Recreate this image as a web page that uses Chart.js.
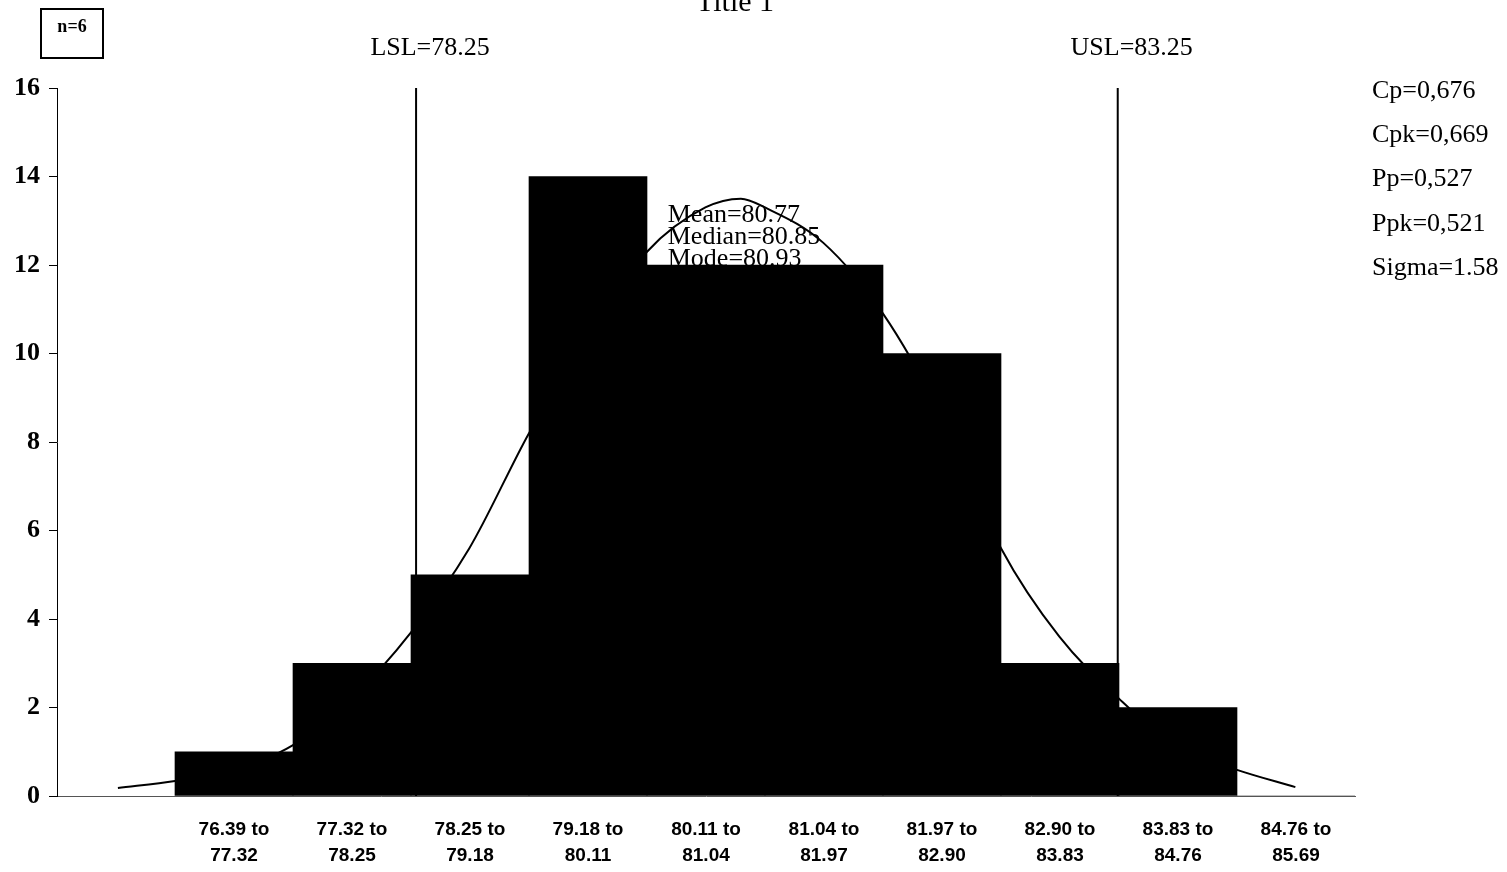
<!DOCTYPE html>
<html>
<head>
<meta charset="utf-8">
<script src="https://cdn.jsdelivr.net/npm/chart.js@4/dist/chart.umd.min.js"></script>
<style>
    html, body { margin: 0; padding: 0; background: #fff; }
    #wrap { width: 1507px; height: 872px; position: relative; }
</style>
</head>
<body>
<div id="wrap"><canvas id="histChart"></canvas></div>
<script>
// du lieu doc tu hinh
const binEdges = [76.39, 77.32, 78.25, 79.18, 80.11, 81.04, 81.97, 82.90, 83.83, 84.76, 85.69];
const binCounts = [1, 3, 5, 14, 12, 12, 10, 3, 2, 0];

// duong cong phan phoi (uoc luong tu hinh)
const curveX = [75.94, 76.39, 76.85, 77.32, 77.78, 78.25, 78.71, 79.18, 79.64, 80.11, 80.57, 80.85,
    81.04, 81.50, 81.97, 82.43, 82.90, 83.36, 83.83, 84.29, 84.76, 85.22];
const curveY = [0.18, 0.34, 0.6, 1.15, 2.2, 3.7, 5.6, 8.2, 10.4, 12.3, 13.3, 13.5,
    13.3, 12.5, 10.9, 8.6, 5.6, 3.6, 2.2, 1.1, 0.59, 0.2];

const specNames = ['LSL=78.25', 'USL=83.25'];
const specLinePos = [78.29, 83.82];
const centerStats = ['Mean=80.77', 'Median=80.85', 'Mode=80.93'];
const meanValue = 80.77;
const capStats = ['Cp=0,676', 'Cpk=0,669', 'Pp=0,527', 'Ppk=0,521', 'Sigma=1.58'];
const sampleLabel = 'n=6';
const chartTitle = 'Title 1';
const yMax = 16;
const yStep = 2;

const serif = "'Liberation Serif', 'Times New Roman', serif";
const binWidth = binEdges[1] - binEdges[0];
const binCenters = binCounts.map((c, i) => (binEdges[i] + binEdges[i + 1]) / 2);

// chu thich ve tay
const notesPlugin = {
    id: 'notes',
    beforeDatasetsDraw(chart) {
        const ctx = chart.ctx;
        const xs = chart.scales.x;
        const ys = chart.scales.y;
        ctx.save();
        ctx.fillStyle = '#000';
        ctx.font = '26px ' + serif;
        ctx.textAlign = 'left';
        ctx.textBaseline = 'middle';
        centerStats.forEach((t, i) => {
            ctx.fillText(t, xs.getPixelForValue(meanValue) - 63, ys.getPixelForValue(13.13) + i * 22);
        });
        ctx.restore();
    },
    afterDraw(chart) {
        const ctx = chart.ctx;
        const area = chart.chartArea;
        const xs = chart.scales.x;
        const ys = chart.scales.y;
        ctx.save();
        ctx.fillStyle = '#000';
        ctx.strokeStyle = '#000';

        // tieu de bi cat
        ctx.font = '30px ' + serif;
        ctx.textAlign = 'center';
        ctx.textBaseline = 'alphabetic';
        ctx.fillText(chartTitle, 735, 11);

        // o n=6
        ctx.lineWidth = 2;
        ctx.strokeRect(41, 9, 62, 49);
        ctx.font = 'bold 18px ' + serif;
        ctx.textBaseline = 'middle';
        ctx.fillText(sampleLabel, 72, 27);

        // nhan LSL / USL
        ctx.font = '26px ' + serif;
        specNames.forEach((t, i) => {
            ctx.fillText(t, xs.getPixelForValue(specLinePos[i]) + 14, area.top - 40);
        });

        // chi so nang luc
        ctx.textAlign = 'left';
        capStats.forEach((t, i) => {
            ctx.fillText(t, area.right + 17, ys.getPixelForValue(yMax - i) + 3);
        });
        ctx.restore();
    }
};

const ctx = document.getElementById('histChart');

new Chart(ctx, {
    type: 'bar',
    data: {
        datasets: [
            {
                type: 'bar',
                data: binCenters.map((x, i) => ({x: x, y: binCounts[i]})),
                backgroundColor: '#000',
                borderWidth: 0,
                categoryPercentage: 1,
                barPercentage: 1,
                order: 2
            },
            {
                type: 'line',
                data: curveX.map((x, i) => ({x: x, y: curveY[i]})),
                borderColor: '#000',
                borderWidth: 2,
                pointRadius: 0,
                cubicInterpolationMode: 'monotone',
                order: 1
            },
            ...specLinePos.map(p => ({
                type: 'line',
                data: [{x: p, y: 0}, {x: p, y: yMax}],
                borderColor: '#000',
                borderWidth: 2,
                pointRadius: 0,
                order: 0
            }))
        ]
    },
    options: {
        responsive: true,
        maintainAspectRatio: false,
        animation: false,
        layout: {padding: {top: 88, right: 152, left: 0, bottom: 0}},
        plugins: {
            legend: {display: false},
            tooltip: {enabled: false},
            title: {display: false}
        },
        scales: {
            x: {
                type: 'linear',
                offset: false,
                min: binEdges[0] - binWidth,
                max: binEdges[binEdges.length - 1],
                grid: {display: false, drawTicks: false},
                border: {display: true, color: '#555', width: 1, dash: [4, 3]},
                afterBuildTicks: (scale) => {
                    scale.ticks = binCenters.map(v => ({value: v}));
                },
                afterFit: (scale) => { scale.height = 76; },
                ticks: {
                    autoSkip: false,
                    maxRotation: 0,
                    padding: 20,
                    color: '#000',
                    font: {family: "'Liberation Sans Narrow', 'Liberation Sans', sans-serif", size: 19, weight: 'bold', lineHeight: 1.4},
                    callback: (value, index) => [binEdges[index].toFixed(2) + ' to', binEdges[index + 1].toFixed(2)]
                }
            },
            y: {
                min: 0,
                max: yMax,
                grid: {drawOnChartArea: false, drawTicks: true, tickLength: 8, color: '#000'},
                border: {display: true, color: '#000', width: 1, dash: [6, 4]},
                afterFit: (scale) => { scale.width = 57; },
                ticks: {
                    stepSize: yStep,
                    padding: 9,
                    color: '#000',
                    font: {family: serif, size: 26, weight: 'bold'}
                }
            }
        }
    },
    plugins: [notesPlugin]
});
</script>
</body>
</html>
